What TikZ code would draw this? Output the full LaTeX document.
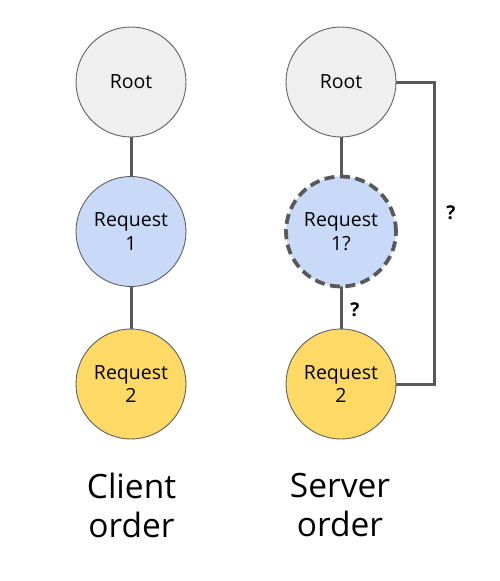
\documentclass[tikz,border=0pt]{standalone}
\usepackage{fontspec}
\setmainfont{Open Sans}
\definecolor{rootfill}{HTML}{EFEFEF}
\definecolor{reqonefill}{HTML}{C9DAF8}
\definecolor{reqtwofill}{HTML}{FFD966}
\definecolor{edgegray}{HTML}{595959}
\definecolor{bordergray}{HTML}{5F5F5F}
\begin{document}
\begin{tikzpicture}[x=1pt,y=-1pt,
  circ/.style={circle,draw=bordergray,line width=0.9pt,minimum size=110pt,inner sep=0pt,
    align=center,font=\fontsize{19.5}{23.5}\selectfont},
  rootc/.style={circ,fill=rootfill},
  reqone/.style={circ,fill=reqonefill},
  reqtwo/.style={circ,fill=reqtwofill},
  uncertain/.style={draw=edgegray,line width=3.8pt,dash pattern=on 10pt off 5.5pt},
  conn/.style={draw=edgegray,line width=3pt},
  qmark/.style={font=\fontsize{19}{22}\selectfont\bfseries},
  caption/.style={align=center,font=\fontsize{33.5}{39}\selectfont}]
\useasboundingbox (0,0) rectangle (500,581);
% connectors first
\coordinate (cr) at (131,82);
\coordinate (c1) at (131,231.5);
\coordinate (c2) at (131,384);
\coordinate (sr) at (341,82);
\coordinate (s1) at (341,231.5);
\coordinate (s2) at (341,384);
\coordinate (bt) at (434,82);
\coordinate (bb) at (434,384);
\draw[conn] (cr) -- (c1) -- (c2);
\draw[conn] (sr) -- (s1) -- (s2);
\draw[conn] (sr) -- (bt) -- (bb) -- (s2);
% nodes
\node[rootc] (croot) at (cr) {Root};
\node[reqone] (creq1) at (c1) {Request\\1};
\node[reqtwo] (creq2) at (c2) {Request\\2};
\node[rootc] (sroot) at (sr) {Root};
\node[reqone,draw=none] (sreq1) at (s1) {Request\\1?};
\draw[uncertain] (sreq1.center) circle (55pt);
\node[reqtwo] (sreq2) at (s2) {Request\\2};
\node[qmark] (q1) at (451,213) {?};
\node[qmark] (q2) at (355,310) {?};
\node[caption] (capc) at (131.5,505) {Client\\order};
\node[caption] (caps) at (340,505) {Server\\order};
\end{tikzpicture}
\end{document}
